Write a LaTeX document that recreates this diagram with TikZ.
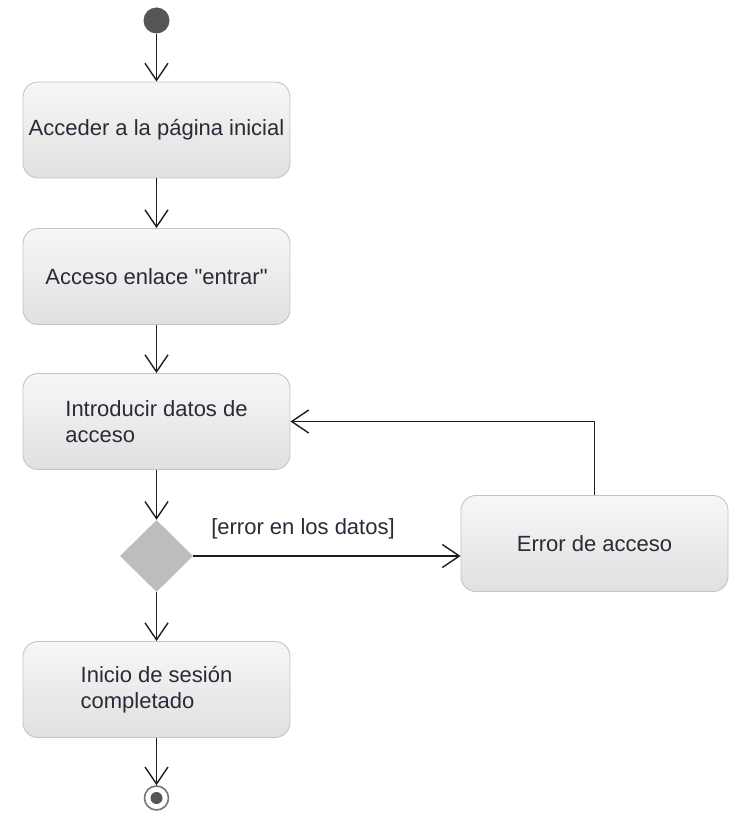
\documentclass[tikz,border=0pt]{standalone}
\usepackage{fontspec}
\setmainfont{Liberation Sans}[Ligatures=TeXOff]
\usetikzlibrary{arrows.meta,shapes.geometric}
\definecolor{boxtop}{HTML}{F7F7F7}
\definecolor{boxbot}{HTML}{E0E0E0}
\definecolor{boxedge}{HTML}{C4C4C4}
\definecolor{ink}{HTML}{2A2A38}
\definecolor{flow}{HTML}{1E1E1E}
\definecolor{decfill}{HTML}{BDBDBD}
\definecolor{startfill}{HTML}{555555}
\tikzset{
  activity/.style={draw=boxedge, line width=0.9pt, rounded corners=15pt,
    top color=boxtop, bottom color=boxbot, minimum width=267pt,
    minimum height=96pt, align=left, text=ink, inner sep=0pt,
    font=\fontsize{22}{25.5}\selectfont},
  decision/.style={diamond, fill=decfill, minimum width=73pt,
    minimum height=72pt, inner sep=0pt},
  flowline/.style={draw=flow, line width=1.4pt,
    -{Straight Barb[length=17pt,width=23pt,line width=1.4pt]}},
  guard/.style={text=ink, font=\fontsize{22}{25.5}\selectfont, inner sep=0pt},
}
\begin{document}
\begin{tikzpicture}[x=1pt,y=-1pt]
  \useasboundingbox (0,0) rectangle (733,813);

  % initial node
  \node[circle, fill=startfill, minimum size=26pt, inner sep=0pt] (start) at (156.5,20.5) {};

  % activities
  \node[activity] (a1) at (156.5,130) {Acceder a la página inicial};
  \node[activity] (a2) at (156.5,276.5) {Acceso enlace "entrar"};
  \node[activity] (a3) at (156.5,421.5) {Introducir datos de\\acceso};
  \node[decision] (d1) at (156.5,556) {};
  \node[activity] (a4) at (594.5,543.5) {Error de acceso};
  \node[activity] (a5) at (156.5,689.5) {Inicio de sesión\\completado};

  % final node
  \node[circle, draw=startfill!80, line width=1.6pt, fill=white,
        minimum size=24pt, inner sep=0pt] (stop) at (156.5,798) {};
  \node[circle, fill=startfill, minimum size=12pt, inner sep=0pt] (stopdot) at (stop.center) {};

  % control flow
  \draw[flowline] (start) -- (a1);
  \draw[flowline] (a1) -- (a2);
  \draw[flowline] (a2) -- (a3);
  \draw[flowline] (a3) -- (d1);
  \draw[flowline] (d1.east) -- (d1.east -| a4.west);
  \node[guard] (g1) at (303,529) {[error en los datos]};
  \draw[flowline] (a4.north) |- (a3.east);
  \draw[flowline] (d1) -- (a5);
  \draw[flowline] (a5) -- (stop);
\end{tikzpicture}
\end{document}
